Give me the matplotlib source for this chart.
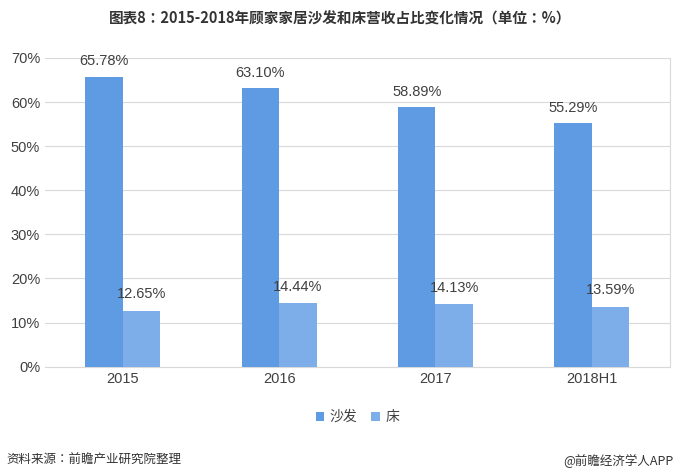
import matplotlib
matplotlib.use("Agg")
import matplotlib.pyplot as plt
from matplotlib import font_manager
import numpy as np

# pick up a CJK face by file if the name lookup misses it
cjk = "Noto Sans CJK SC"
for f in font_manager.findSystemFonts():
    if "CJK" in f and "Regular" in f:
        try:
            font_manager.fontManager.addfont(f)
        except Exception:
            pass
names = {fe.name for fe in font_manager.fontManager.ttflist}
for n in ("Noto Sans CJK SC", "Noto Sans CJK JP", "Noto Sans CJK TC", "Noto Sans CJK KR"):
    if n in names:
        cjk = n
        break
plt.rcParams["font.family"] = [cjk, "DejaVu Sans"]
NUM = "Liberation Sans"

categories = ["2015", "2016", "2017", "2018H1"]
sofa = [65.78, 63.10, 58.89, 55.29]
bed = [12.65, 14.44, 14.13, 13.59]
yticks = [0, 10, 20, 30, 40, 50, 60, 70]

c_sofa = "#5F9BE3"
c_bed = "#7DAEEA"

fig = plt.figure(figsize=(6.8, 4.75), dpi=100)
ax = fig.add_axes([0.066, 0.228, 0.919, 0.65])

x = np.arange(len(categories))
w = 0.24
ax.bar(x - w / 2, sofa, w, color=c_sofa, label="沙发", zorder=3)
ax.bar(x + w / 2, bed, w, color=c_bed, label="床", zorder=3)
for xi, s, b in zip(x, sofa, bed):
    ax.annotate(f"{s:.2f}%", (xi - w / 2, s), xytext=(0, 8), textcoords="offset points",
                ha="center", fontsize=10.5, color="#404040", fontfamily=NUM)
    ax.annotate(f"{b:.2f}%", (xi + w / 2, b), xytext=(0, 9), textcoords="offset points",
                ha="center", fontsize=10.5, color="#404040", fontfamily=NUM)

ax.set_xlim(-0.5, len(categories) - 0.5)
ax.set_ylim(0, 70)
ax.set_yticks(yticks)
ax.set_yticklabels([f"{t}%" for t in yticks], fontsize=10.5, color="#404040", fontfamily=NUM)
ax.set_xticks(x)
ax.set_xticklabels(categories, fontsize=10.5, color="#404040", fontfamily=NUM)
ax.tick_params(length=0)
ax.grid(axis="y", color="#D9D9D9", lw=0.8, zorder=0)
for sp in ax.spines.values():
    sp.set_color("#D9D9D9")
ax.spines["left"].set_visible(False)
ax.spines["top"].set_visible(False)

ax.legend(loc="upper center", bbox_to_anchor=(0.5, -0.1), ncol=2, frameon=False,
          fontsize=10, handlelength=0.6, handleheight=0.6, columnspacing=1.0,
          handletextpad=0.4, labelcolor="#404040")

fig.text(0.5, 0.962, "图表8：2015-2018年顾家家居沙发和床营收占比变化情况（单位：%）",
         ha="center", va="center", fontsize=10.5, fontweight="bold", color="#333333")
fig.text(0.01, 0.03, "资料来源：前瞻产业研究院整理", ha="left", va="center",
         fontsize=9, style="italic", color="#333333")
fig.text(0.99, 0.03, "@前瞻经济学人APP", ha="right", va="center",
         fontsize=9, color="#333333")

fig.savefig("out.png", dpi=100)
